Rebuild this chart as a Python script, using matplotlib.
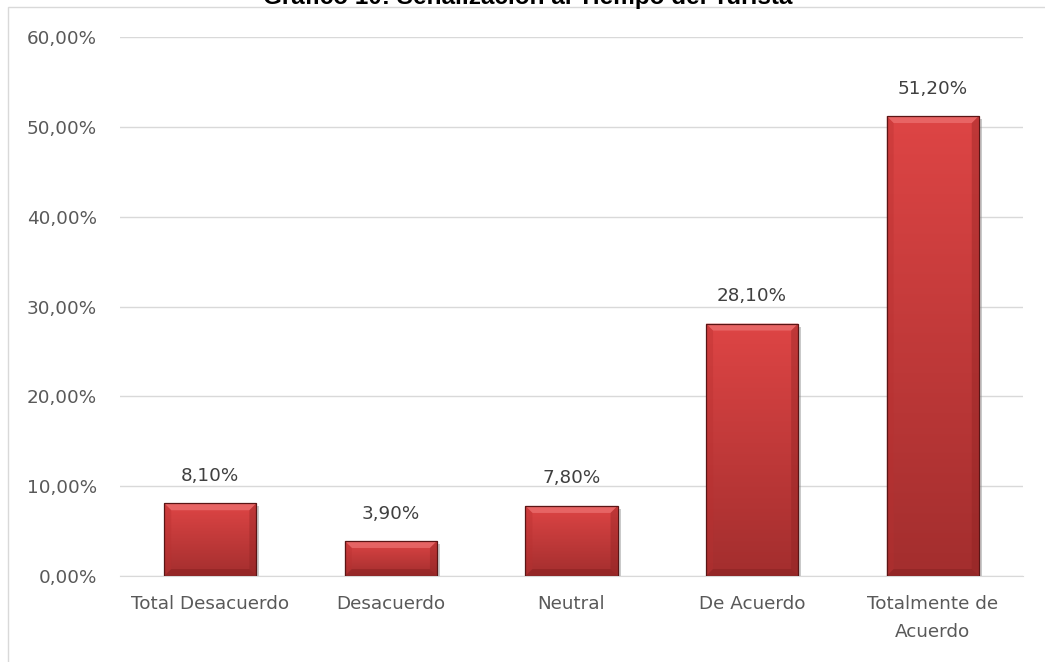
import numpy as np
import matplotlib
matplotlib.use("Agg")
from matplotlib import pyplot as plt
from matplotlib.patches import Rectangle, Polygon

categorias = ['Total Desacuerdo', 'Desacuerdo', 'Neutral', 'De Acuerdo', 'Totalmente de\nAcuerdo']
valores = [8.10, 3.90, 7.80, 28.10, 51.20]
ticks_y = [0, 10, 20, 30, 40, 50, 60]
titulo = 'Gráfico 10: Señalización al Tiempo del Turista'

plt.rcParams['font.family'] = ['DejaVu Sans']

fig = plt.figure(figsize=(10.45, 6.62), dpi=100)
ax = fig.add_axes([120/1045, 1 - 576/662, 903/1045, (576 - 37)/662])

x = np.arange(len(categorias))
bars = ax.bar(x, valores, width=0.51, color='#c83a3a', edgecolor='none', zorder=2)

# degradado vertical dentro de cada barra
grad = np.linspace(0, 1, 256).reshape(-1, 1)
top = np.array([0.87, 0.27, 0.27])
bot = np.array([0.64, 0.18, 0.18])
img = top + (bot - top) * grad[:, :, None] * np.ones((1, 1, 3))
bx, by = 7 / 180.6, 7 * 60 / 539
sx, sy = 3 / 180.6, 3 * 60 / 539
for b in bars:
    x0, y0 = b.get_x(), b.get_y()
    w, h = b.get_width(), b.get_height()
    # sombra
    ax.add_patch(Rectangle((x0 + sx, y0), w, h - sy, facecolor='#888888', edgecolor='none',
                           alpha=0.45, zorder=1.9))
    im = ax.imshow(img, extent=[x0, x0 + w, y0, y0 + h], origin='upper', aspect='auto', zorder=2.5)
    im.set_clip_path(b)
    x1, y1 = x0 + w, y0 + h
    # bisel
    ax.add_patch(Polygon([(x0, y1), (x1, y1), (x1 - bx, y1 - by), (x0 + bx, y1 - by)],
                         facecolor='#ec7070', edgecolor='none', alpha=0.75, zorder=2.6))
    ax.add_patch(Polygon([(x0, y0), (x0, y1), (x0 + bx, y1 - by), (x0 + bx, y0 + by)],
                         facecolor='#b83030', edgecolor='none', alpha=0.35, zorder=2.6))
    ax.add_patch(Polygon([(x1, y0), (x1, y1), (x1 - bx, y1 - by), (x1 - bx, y0 + by)],
                         facecolor='#8a2020', edgecolor='none', alpha=0.35, zorder=2.6))
    ax.add_patch(Polygon([(x0, y0), (x1, y0), (x1 - bx, y0 + by), (x0 + bx, y0 + by)],
                         facecolor='#7a1a1a', edgecolor='none', alpha=0.35, zorder=2.6))
    ax.add_patch(Rectangle((x0, y0), w, h, facecolor='none', edgecolor='#5a1515', linewidth=0.9, zorder=2.7))

for xi, v in zip(x, valores):
    ax.text(xi, v + 2.5, f'{v:.2f}%'.replace('.', ','), ha='center', va='baseline', fontsize=13.2, color='#404040')

ax.set_xlim(-0.5, len(categorias) - 0.5)
ax.set_ylim(0, 60)
ax.set_yticks(ticks_y)
ax.set_yticklabels([f'{t:.2f}%'.replace('.', ',') for t in ticks_y])
ax.set_xticks(x)
ax.set_xticklabels(categorias, linespacing=1.65)
ax.tick_params(axis='both', length=0, labelsize=13.2, labelcolor='#595959')
ax.tick_params(axis='y', pad=16.5)
ax.tick_params(axis='x', pad=14)
ax.grid(axis='y', color='#d9d9d9', linewidth=1, zorder=0)
ax.set_axisbelow(True)
for s in ['top', 'right', 'left']:
    ax.spines[s].set_visible(False)
ax.spines['bottom'].set_color('#d9d9d9')

# marco del grafico
fig.patches.append(Rectangle((8/1045, -0.01), 1.1, 1 - 7/662 + 0.01, transform=fig.transFigure,
                             facecolor='none', edgecolor='#d9d9d9', linewidth=1))
fig.text(0.505, 1 - 4/662, titulo, ha='center', va='baseline', fontsize=17.5, fontweight='bold',
         family='Liberation Sans', color='black')

fig.savefig('out.png', dpi=100)
